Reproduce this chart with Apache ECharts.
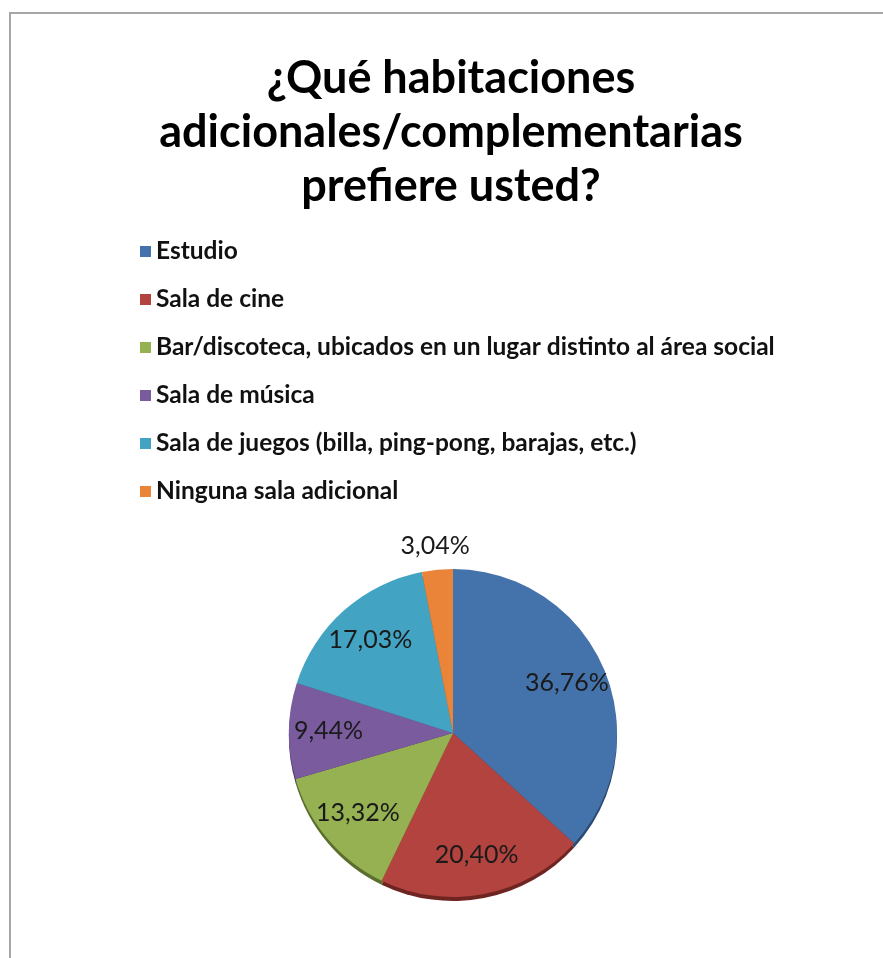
<!DOCTYPE html>
<html>
<head>
<meta charset="utf-8">
<script src="https://cdn.jsdelivr.net/npm/echarts@6/dist/echarts.min.js"></script>
<style>
  html, body { margin: 0; padding: 0; background: #ffffff; overflow: hidden; }
  #chart { position: absolute; left: 0; top: 0; width: 883px; height: 958px; }
  #frame {
    position: absolute; left: 9px; top: 12px; width: 900px; height: 960px;
    border-left: 2px solid #a6a6a6; border-top: 2px solid #a6a6a6;
    pointer-events: none;
  }
</style>
</head>
<body>
<div id="chart"></div>
<div id="frame"></div>
<script>
// Survey question and answer options
const titleLines = [
  '¿Qué habitaciones',
  'adicionales/complementarias',
  'prefiere usted?'
];
const categories = [
  'Estudio',
  'Sala de cine',
  'Bar/discoteca, ubicados en un lugar distinto al área social',
  'Sala de música',
  'Sala de juegos (billa, ping-pong, barajas, etc.)',
  'Ninguna sala adicional'
];
// Share of respondents, in percent
const shares = [36.76, 20.40, 13.32, 9.44, 17.03, 3.04];
// Slices whose label sits above the pie instead of inside it
const outsideLabels = ['Ninguna sala adicional'];

const sliceColors = ['#4472aa', '#b2433f', '#95b151', '#7a5c9e', '#43a3c3', '#ea8438'];
const rimColors   = ['#2b4a73', '#6e2522', '#5b6e2e', '#4a3663', '#2a6a80', '#9a5420'];

const FONT = 'Lato, "Open Sans", "DejaVu Sans", sans-serif';
const fmt = v => v.toFixed(2).replace('.', ',') + '%';

const PIE_CENTER = [453, 733];
const PIE_R = 164;

const chart = echarts.init(document.getElementById('chart'), null, { renderer: 'canvas' });

const mainData = categories.map((name, i) => {
  const outside = outsideLabels.includes(name);
  return {
    name,
    value: shares[i],
    itemStyle: { color: sliceColors[i] },
    label: { show: outside }
  };
});

const rimData = categories.map((name, i) => ({
  name,
  value: shares[i],
  itemStyle: { color: rimColors[i] }
}));

const labelData = categories.map((name, i) => ({
  name,
  value: shares[i],
  label: { show: !outsideLabels.includes(name) }
}));

chart.setOption({
  animation: false,
  backgroundColor: '#ffffff',
  title: {
    text: titleLines.join('\n'),
    left: 451,
    top: 51,
    padding: 0,
    textAlign: 'center',
    textStyle: {
      fontFamily: FONT,
      fontWeight: 'bold',
      fontSize: 45,
      lineHeight: 54,
      color: '#000000'
    }
  },
  legend: {
    orient: 'vertical',
    left: 140,
    top: 239,
    padding: 0,
    icon: 'rect',
    itemWidth: 11,
    itemHeight: 11,
    itemGap: 23,
    selectedMode: false,
    data: categories,
    textStyle: {
      fontFamily: FONT,
      fontSize: 24.5,
      fontWeight: 'bold',
      lineHeight: 24,
      color: '#111111'
    }
  },
  series: [
    {
      // coloured slices
      type: 'pie',
      z: 2,
      center: PIE_CENTER,
      radius: PIE_R,
      startAngle: 90,
      clockwise: true,
      silent: true,
      data: mainData,
      label: {
        position: 'outside',
        alignTo: 'none',
        distanceToLabelLine: 0,
        formatter: p => fmt(p.value),
        fontFamily: FONT,
        fontSize: 25,
        color: '#1a1a1a'
      },
      labelLine: { show: false, length: 24, length2: 0 },
      labelLayout: () => ({ align: 'center', verticalAlign: 'middle' }),
      itemStyle: { borderWidth: 0 }
    },
    {
      // darker rim peeking out under the lower edge
      type: 'pie',
      z: 1,
      center: [PIE_CENTER[0], PIE_CENTER[1] + 4],
      radius: PIE_R,
      startAngle: 90,
      clockwise: true,
      silent: true,
      data: rimData,
      label: { show: false },
      labelLine: { show: false },
      itemStyle: { borderWidth: 0 }
    },
    {
      // transparent ring that carries the inner value labels
      type: 'pie',
      z: 3,
      center: PIE_CENTER,
      radius: [Math.round(PIE_R * 0.48), PIE_R],
      startAngle: 90,
      clockwise: true,
      silent: true,
      data: labelData,
      itemStyle: { color: 'rgba(0,0,0,0)', borderWidth: 0 },
      label: {
        position: 'inside',
        formatter: p => fmt(p.value),
        fontFamily: FONT,
        fontSize: 25,
        color: '#1a1a1a'
      },
      labelLine: { show: false }
    }
  ]
});
</script>
</body>
</html>
